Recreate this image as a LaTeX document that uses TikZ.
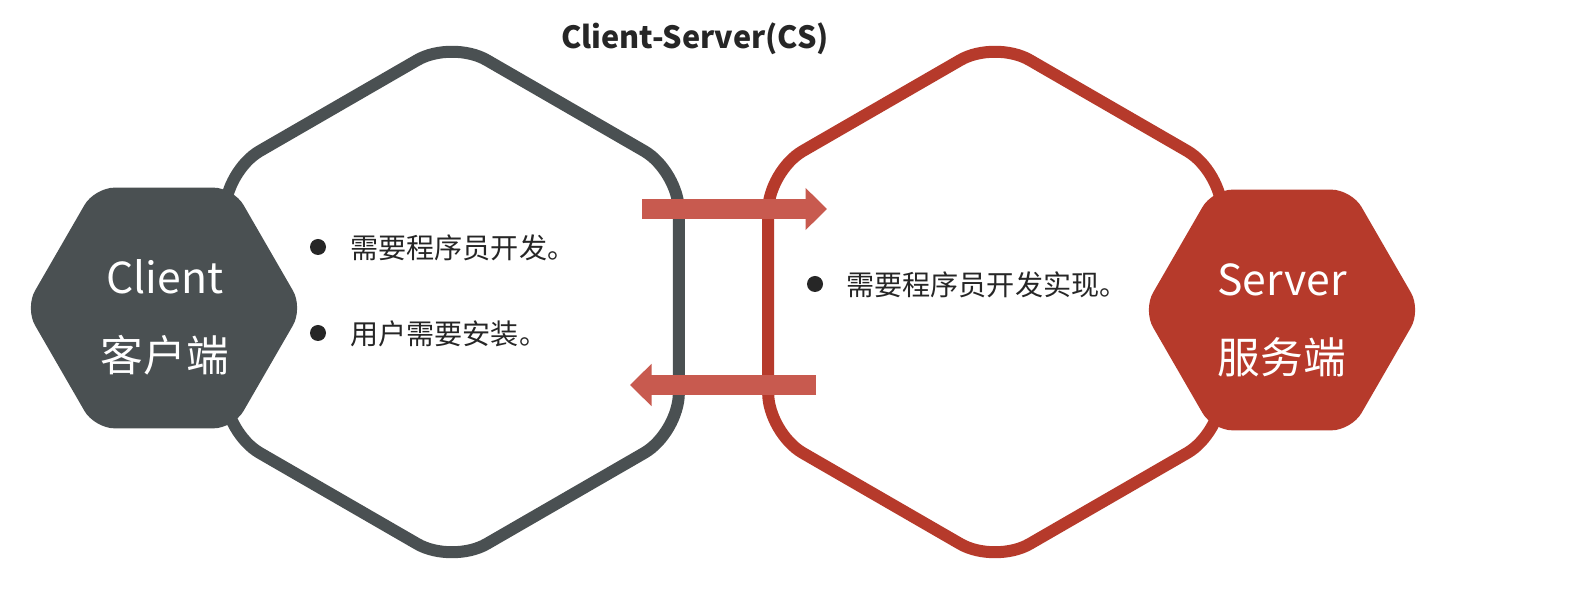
\documentclass[tikz,border=0pt]{standalone}
\usepackage{fontspec}
\setmainfont{Noto Sans CJK SC}
\usetikzlibrary{shapes.geometric,arrows.meta}
\definecolor{cgray}{HTML}{4A5052}
\definecolor{cred}{HTML}{B63A2B}
\definecolor{carrow}{HTML}{C85A4F}
\definecolor{ctext}{HTML}{262626}

\begin{document}
\begin{tikzpicture}[x=0.02cm,y=-0.02cm,
    bighex/.style={regular polygon,regular polygon sides=6,shape border rotate=30,
        minimum size=10.48cm,inner sep=0pt,outer sep=0pt,line width=0.24cm,rounded corners=0.8cm},
    smallhex/.style={regular polygon,regular polygon sides=6,
        minimum size=5.56cm,inner sep=0pt,outer sep=0pt,rounded corners=0.4cm},
    hexlabel/.style={text=white,font=\fontsize{24.3}{28}\selectfont,inner sep=0pt},
    flow/.style={carrow,line width=0.4cm,-{Triangle[length=0.43cm,width=0.82cm]}},
    bullet/.style={circle,fill=ctext,inner sep=0pt,minimum size=0.32cm},
    itemtext/.style={anchor=west,text=ctext,font=\fontsize{16}{19}\selectfont,inner sep=0pt},
]
    \fill[white] (0,0) rectangle (1569,590);
    \useasboundingbox (0,0) rectangle (1569,590);

    % big outlined hexagons
    \node[bighex,draw=cgray] (clientarea) at (452,302) {};
    \node[bighex,draw=cred] (serverarea) at (995,302) {};

    % small filled hexagons
    \node[smallhex,fill=cgray] (clienthex) at (164,308) {};
    \node[smallhex,fill=cred] (serverhex) at (1282,310) {};
    \node[hexlabel] (clientname) at (165,277) {Client};
    \node[hexlabel] (clientcn) at (165,355) {客户端};
    \node[hexlabel] (servername) at (1282,280) {Server};
    \node[hexlabel] (servercn) at (1282,357) {服务端};

    % title
    \node[text=ctext,font=\bfseries\fontsize{17.4}{21}\selectfont] (title) at (695,39) {Client-Server(CS)};

    % bullet points
    \node[bullet] (b1) at (318,247) {};
    \node[itemtext] (t1) at (350,248) {需要程序员开发。};
    \node[bullet] (b2) at (318,333) {};
    \node[itemtext] (t2) at (350,334) {用户需要安装。};
    \node[bullet] (b3) at (815,284) {};
    \node[itemtext] (t3) at (846,285) {需要程序员开发实现。};

    % request / response
    \coordinate (reqstart) at (642,209);
    \coordinate (reqend) at (827,209);
    \coordinate (respstart) at (816,385);
    \coordinate (respend) at (630,385);
    \draw[flow] (reqstart) -- (reqend);
    \draw[flow] (respstart) -- (respend);

\end{tikzpicture}
\end{document}
